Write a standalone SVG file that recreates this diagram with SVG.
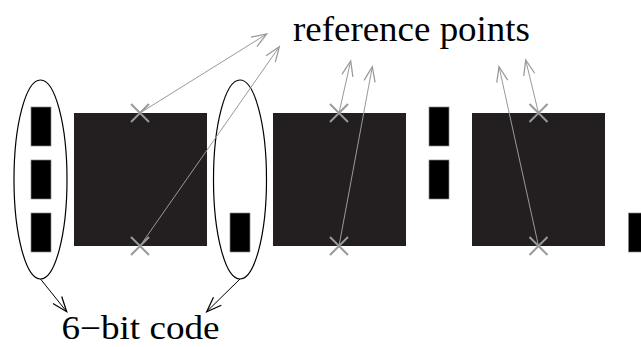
<svg xmlns="http://www.w3.org/2000/svg" width="641" height="347" viewBox="0 0 641 347">
<defs>
<marker id="ga" markerUnits="userSpaceOnUse" markerWidth="20" markerHeight="20" viewBox="-12 -8 14 16" refX="0" refY="0" orient="auto">
<path d="M-12,-4.5 L0,0 L-12,4.5" fill="none" stroke="#999" stroke-width="1"/>
</marker>
<marker id="ka" markerUnits="userSpaceOnUse" markerWidth="20" markerHeight="20" viewBox="-12 -8 14 16" refX="0" refY="0" orient="auto">
<path d="M-12,-4.5 L0,0 L-12,4.5" fill="none" stroke="#000" stroke-width="1"/>
</marker>
</defs>
<style>
.big{fill:#231f20}
.bit{fill:#000;stroke:#888;stroke-width:0.7}
.ell{fill:none;stroke:#000;stroke-width:1.2}
.x{stroke:#999;stroke-width:2;fill:none}
.ga{stroke:#999;stroke-width:1;fill:none;marker-end:url(#ga)}
.ka{stroke:#000;stroke-width:1;fill:none;marker-end:url(#ka)}
.t{font-family:"Liberation Serif","Times New Roman",serif;font-size:35px;fill:#000}
.b{font-size:33px}
</style>
<rect width="641" height="347" fill="#fff"/>
<g id="block1"><rect class="big" x="74" y="113" width="133" height="133"/></g>
<g id="block2"><rect class="big" x="273" y="113" width="133" height="133"/></g>
<g id="block3"><rect class="big" x="472" y="113" width="133" height="133"/></g>
<g id="code1">
<rect class="bit" x="31" y="107" width="20" height="39"/>
<rect class="bit" x="31" y="160" width="20" height="39"/>
<rect class="bit" x="31" y="213" width="20" height="39"/>
<ellipse class="ell" cx="40.5" cy="179.5" rx="26.5" ry="99.5"/>
</g>
<g id="code2">
<rect class="bit" x="230" y="213" width="20" height="39"/>
<ellipse class="ell" cx="240" cy="179.5" rx="26.5" ry="99.5"/>
</g>
<g id="code3">
<rect class="bit" x="429" y="107" width="20" height="39"/>
<rect class="bit" x="429" y="160" width="20" height="39"/>
</g>
<g id="code4">
<rect class="bit" x="628.5" y="213" width="20" height="39"/>
</g>
<g id="refpoints">
<path class="x" d="M131,104 L149,122 M149,104 L131,122"/>
<path class="x" d="M131,237 L149,255 M149,237 L131,255"/>
<path class="x" d="M330,104 L348,122 M348,104 L330,122"/>
<path class="x" d="M330,237 L348,255 M348,237 L330,255"/>
<path class="x" d="M529.5,104 L547.5,122 M547.5,104 L529.5,122"/>
<path class="x" d="M529.5,237 L547.5,255 M547.5,237 L529.5,255"/>
</g>
<g id="label-ref"><text class="t" x="293" y="41" textLength="237" lengthAdjust="spacingAndGlyphs">reference points</text></g>
<g id="label-code"><text class="t b" x="61.5" y="339" textLength="158" lengthAdjust="spacingAndGlyphs">6−bit code</text></g>
<g id="connectors">
<line class="ga" x1="140" y1="113" x2="266.7" y2="34"/>
<line class="ga" x1="140" y1="246" x2="279.3" y2="46.7"/>
<line class="ga" x1="339" y1="113" x2="350.7" y2="61"/>
<line class="ga" x1="339" y1="246" x2="372.3" y2="66.7"/>
<line class="ga" x1="538.5" y1="246" x2="499" y2="66.7"/>
<line class="ga" x1="538.5" y1="113" x2="525.7" y2="60"/>
<line class="ka" x1="40.5" y1="279" x2="66.7" y2="311.7"/>
<line class="ka" x1="240" y1="279" x2="206.7" y2="311.7"/>
</g>
</svg>
